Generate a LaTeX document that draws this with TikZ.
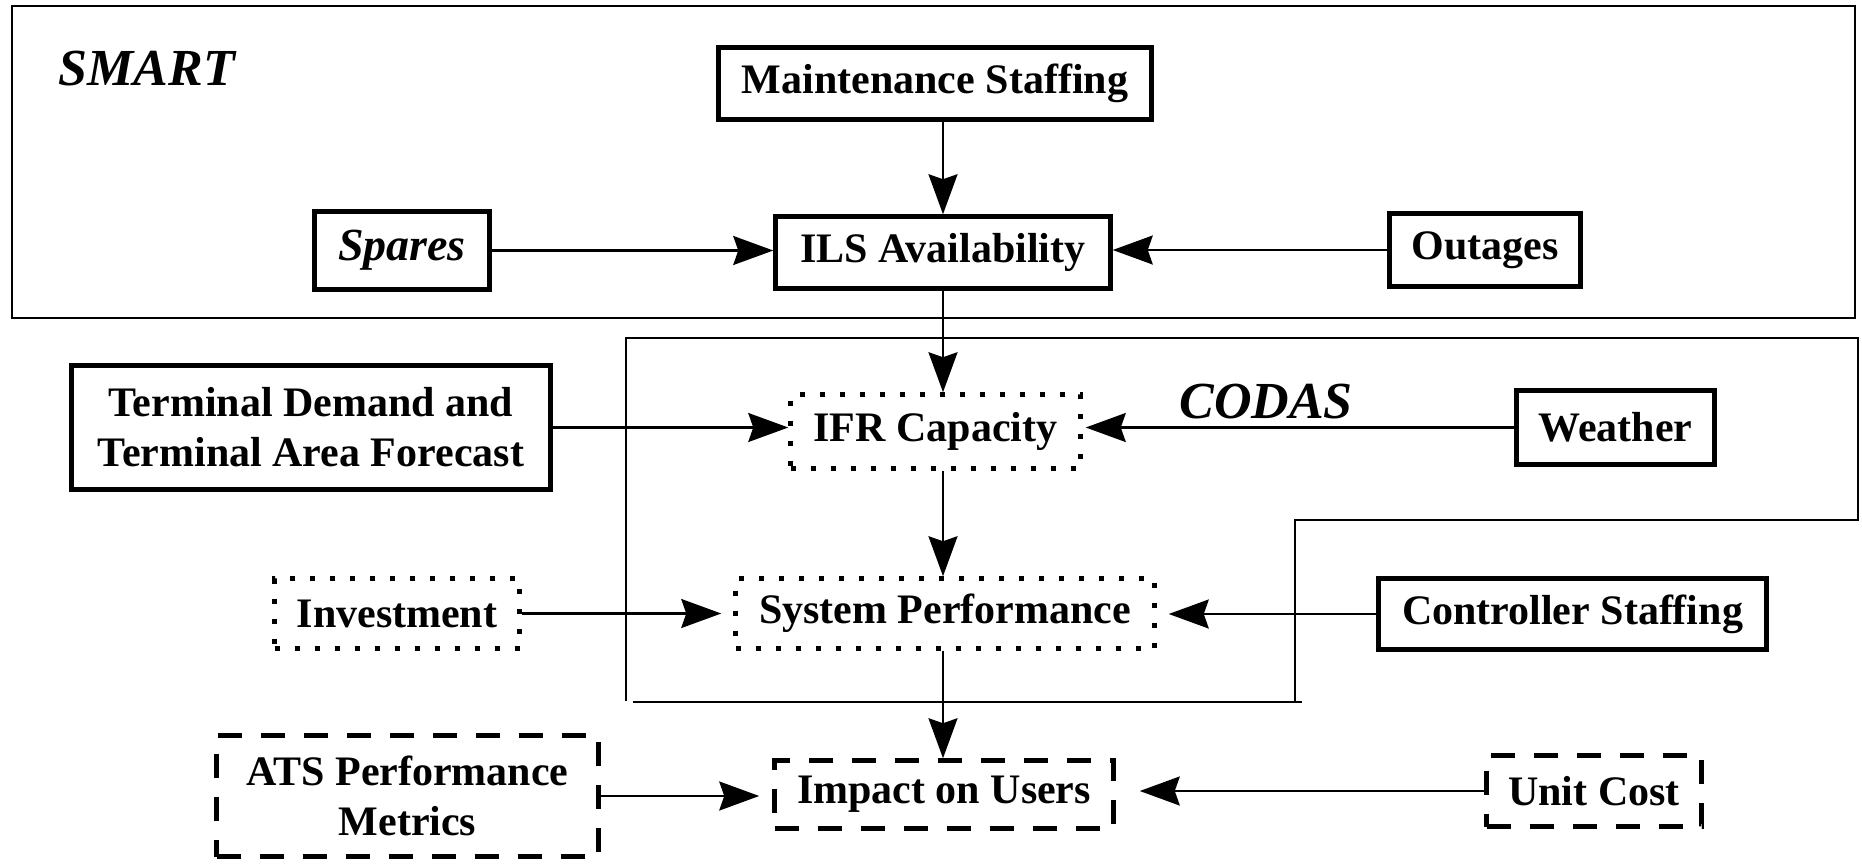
\documentclass[tikz,border=0pt]{standalone}
\usepackage{fontspec}
\setmainfont{Liberation Serif}
\usetikzlibrary{arrows.meta}
\begin{document}
\begin{tikzpicture}[x=1pt,y=-1pt,
  solidbox/.style={draw, line width=4.5pt, inner sep=0pt, align=center,
    font=\fontsize{42}{50}\selectfont\bfseries},
  dotbox/.style={solidbox, dash pattern=on 5pt off 15pt},
  dashbox/.style={solidbox, dash pattern=on 24pt off 19pt},
  conn/.style={line width=2.2pt, -{Stealth[length=40pt,width=29pt,inset=5pt]}},
  region/.style={line width=2.2pt},
  regionlabel/.style={font=\fontsize{52}{60}\selectfont\bfseries\itshape, inner sep=0pt}
]
\useasboundingbox (0,0) rectangle (1862,864);

% regions
\draw[region] (12,6) rectangle (1855,318);
\draw[region] (626,701) -- (626,338) -- (1858,338) -- (1858,520) -- (1295,520) -- (1295,701);
\draw[region] (633,702) -- (1302,702);
\node[regionlabel] (smartlbl) at (147,69) {SMART};
\node[regionlabel] (codaslbl) at (1266,402) {CODAS};

% nodes
\node[solidbox, minimum width=433pt, minimum height=72pt] (maint) at (935,83.5) {Maintenance Staffing};
\node[solidbox, minimum width=335pt, minimum height=72pt] (ils) at (943,252.5) {ILS Availability};
\node[solidbox, minimum width=175pt, minimum height=78pt, font=\fontsize{46}{52}\selectfont\bfseries\itshape] (spares) at (402,250.5) {Spares};
\node[solidbox, minimum width=191pt, minimum height=73pt] (outages) at (1485,250) {Outages};
\node[solidbox, minimum width=479pt, minimum height=124pt] (terminal) at (311,427.5) {Terminal Demand and\\Terminal Area Forecast};
\node[dotbox, minimum width=290pt, minimum height=74pt] (ifr) at (935.5,431.5) {IFR Capacity};
\node[solidbox, minimum width=198pt, minimum height=74pt] (weather) at (1615.5,427.5) {Weather};
\node[dotbox, minimum width=245pt, minimum height=70pt] (invest) at (397,613.5) {Investment};
\node[dotbox, minimum width=419pt, minimum height=70pt] (sysperf) at (945,613.5) {System Performance};
\node[solidbox, minimum width=388pt, minimum height=71pt] (ctrl) at (1572.5,614) {Controller Staffing};
\node[dashbox, minimum width=382pt, minimum height=121pt] (ats) at (407.5,796) {ATS Performance\\Metrics};
\node[dashbox, minimum width=339pt, minimum height=68pt] (impact) at (944,794.5) {Impact on Users};
\node[dashbox, minimum width=215pt, minimum height=71pt] (unit) at (1594,791) {Unit Cost};

% vertical connectors
\draw[conn] (maint.south -| ils.north) -- (ils.north);
\draw[conn] (ils.south) -- (ils.south |- ifr.north);
\draw[conn] (ifr.south -| ils.south) -- (ils.south |- sysperf.north);
\draw[conn] (sysperf.south -| ils.south) -- (ils.south |- impact.north);

% horizontal connectors
\draw[conn] (spares.east) -- (spares.east -| ils.west);
\draw[conn] (outages.west) -- (outages.west -| ils.east);
\draw[conn] (terminal.east) -- (terminal.east -| ifr.west);
\draw[conn, shorten >=3pt] (weather.west) -- (weather.west -| ifr.east);
\draw[conn, shorten >=12pt] (invest.east) -- (invest.east -| sysperf.west);
\draw[conn, shorten >=12pt] (ctrl.west) -- (ctrl.west -| sysperf.east);
\draw[conn, shorten >=13pt] (ats.east) -- (ats.east -| impact.west);
\draw[conn, shorten >=24pt] (unit.west) -- (unit.west -| impact.east);
\end{tikzpicture}
\end{document}
